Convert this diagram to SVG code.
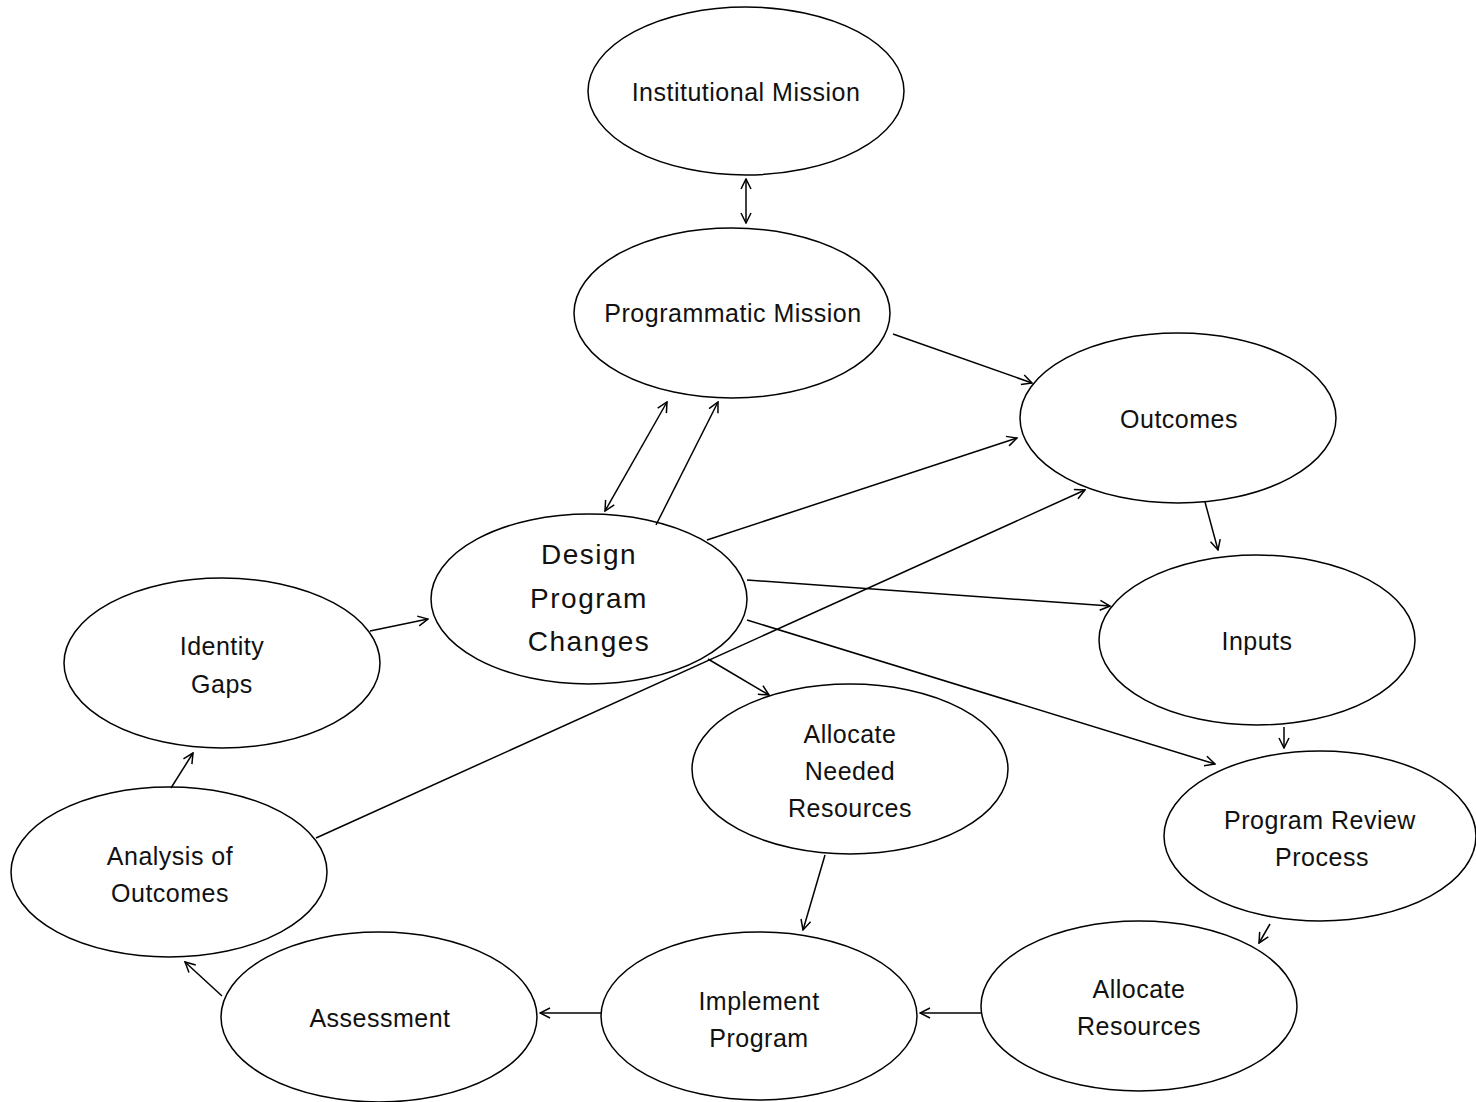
<svg xmlns="http://www.w3.org/2000/svg" width="1476" height="1102" viewBox="0 0 1476 1102">
<defs>
<marker id="arr" viewBox="0 0 12 12" refX="11" refY="6" markerWidth="12" markerHeight="12" markerUnits="userSpaceOnUse" orient="auto-start-reverse">
<path d="M1,1 L11,6 L1,11" fill="none" stroke="#000" stroke-width="1.5"/>
</marker>
</defs>
<style>
ellipse{fill:#fff;stroke:#000;stroke-width:1.5}
text{font-family:"Liberation Sans",Arial,sans-serif;font-size:25px;letter-spacing:0.5px;fill:#111;text-anchor:middle;dominant-baseline:central}
.big{font-size:28px;letter-spacing:1.5px}
.c line{stroke:#000;stroke-width:1.5;marker-end:url(#arr)}
.c line.both{marker-start:url(#arr)}
</style>
<g id="institutional-mission"><ellipse cx="746" cy="91" rx="158" ry="84"/><text x="746" y="92">Institutional Mission</text></g>
<g id="programmatic-mission"><ellipse cx="732" cy="313" rx="158" ry="85"/><text x="733" y="313">Programmatic Mission</text></g>
<g id="outcomes"><ellipse cx="1178" cy="418" rx="158" ry="85"/><text x="1179" y="419">Outcomes</text></g>
<g id="design-program-changes"><ellipse cx="589" cy="599" rx="158" ry="85"/><text class="big" x="589" y="554">Design</text><text class="big" x="589" y="598">Program</text><text class="big" x="589" y="641">Changes</text></g>
<g id="inputs"><ellipse cx="1257" cy="640" rx="158" ry="85"/><text x="1257" y="641">Inputs</text></g>
<g id="identity-gaps"><ellipse cx="222" cy="663" rx="158" ry="85"/><text x="222" y="646">Identity</text><text x="222" y="684">Gaps</text></g>
<g id="allocate-needed-resources"><ellipse cx="850" cy="769" rx="158" ry="85"/><text x="850" y="734">Allocate</text><text x="850" y="771">Needed</text><text x="850" y="808">Resources</text></g>
<g id="program-review-process"><ellipse cx="1320" cy="836" rx="156" ry="85"/><text x="1320" y="820">Program Review</text><text x="1322" y="857">Process</text></g>
<g id="analysis-of-outcomes"><ellipse cx="169" cy="872" rx="158" ry="85"/><text x="170" y="856">Analysis of</text><text x="170" y="893">Outcomes</text></g>
<g id="assessment"><ellipse cx="379" cy="1017" rx="158" ry="85"/><text x="380" y="1018">Assessment</text></g>
<g id="implement-program"><ellipse cx="759" cy="1016" rx="158" ry="84"/><text x="759" y="1001">Implement</text><text x="759" y="1038">Program</text></g>
<g id="allocate-resources"><ellipse cx="1139" cy="1006" rx="158" ry="85"/><text x="1139" y="989">Allocate</text><text x="1139" y="1026">Resources</text></g>
<g class="c" id="connectors">
<line class="both" x1="746" y1="179" x2="746" y2="223"/>
<line x1="893" y1="334" x2="1032" y2="383"/>
<line class="both" x1="605" y1="511" x2="667" y2="402"/>
<line x1="656" y1="525" x2="718" y2="402"/>
<line x1="707" y1="540" x2="1017" y2="438"/>
<line x1="316" y1="838" x2="1085" y2="490"/>
<line x1="1205" y1="502" x2="1218" y2="550"/>
<line x1="747" y1="580" x2="1110" y2="606"/>
<line x1="747" y1="620" x2="1215" y2="764"/>
<line x1="708" y1="659" x2="769" y2="695"/>
<line x1="370" y1="631" x2="428" y2="619"/>
<line x1="171" y1="788" x2="193" y2="753"/>
<line x1="1284" y1="727" x2="1284" y2="748"/>
<line x1="1270" y1="924" x2="1259" y2="943"/>
<line x1="825" y1="855" x2="803" y2="930"/>
<line x1="981" y1="1013" x2="920" y2="1013"/>
<line x1="601" y1="1013" x2="540" y2="1013"/>
<line x1="222" y1="996" x2="185" y2="962"/>
</g>
</svg>
